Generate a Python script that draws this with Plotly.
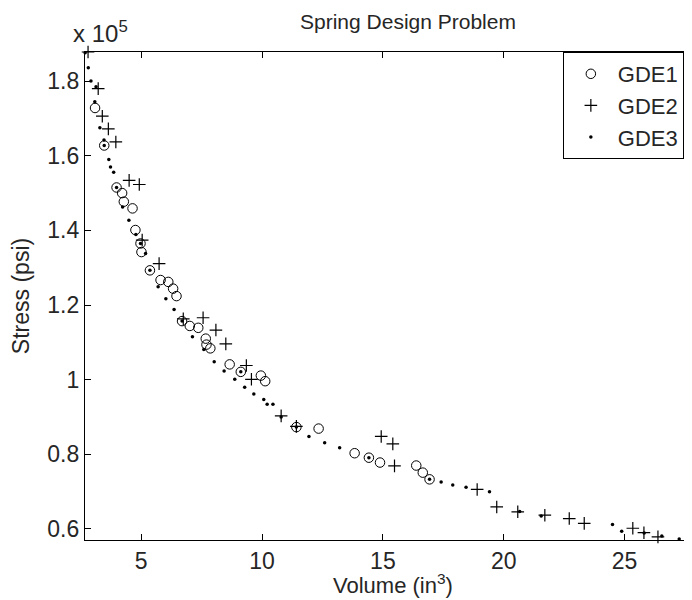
import plotly.graph_objects as go

# GDE1 (circles): volume (in^3), stress (x1e5 psi)
gde1_x = [3.09, 3.47, 3.98, 4.21, 4.28, 4.64, 4.76, 4.97, 5.01, 5.36, 5.80, 6.12, 6.32, 6.46,
          6.69, 7.01, 7.36, 7.67, 7.70, 7.86, 8.66, 9.12, 9.95, 10.13, 11.42, 12.34, 13.83,
          14.42, 14.88, 16.38, 16.65, 16.93]
gde1_y = [1.728, 1.6275, 1.515, 1.500, 1.477, 1.459, 1.401, 1.365, 1.342, 1.293, 1.267, 1.262,
          1.244, 1.224, 1.157, 1.144, 1.139, 1.110, 1.094, 1.084, 1.041, 1.021, 1.011, 0.996,
          0.873, 0.869, 0.803, 0.791, 0.778, 0.770, 0.751, 0.733]

# GDE2 (plus)
gde2_x = [2.80, 3.22, 3.39, 3.64, 3.95, 4.50, 4.92, 5.04, 5.74, 6.74, 7.56, 8.09, 8.50, 9.35,
          9.56, 10.79, 11.42, 14.93, 15.41, 15.48, 18.90, 19.71, 20.58, 21.70, 22.71, 23.33,
          25.34, 25.80, 26.38]
gde2_y = [1.878, 1.780, 1.706, 1.672, 1.637, 1.534, 1.523, 1.374, 1.311, 1.163, 1.166, 1.133,
          1.096, 1.038, 1.001, 0.903, 0.875, 0.848, 0.828, 0.769, 0.706, 0.659, 0.646, 0.637,
          0.628, 0.615, 0.602, 0.590, 0.579]

# GDE3 (dots)
gde3_x = [2.68, 2.81, 2.92, 3.13, 3.08, 3.29, 3.46, 3.47, 3.66, 3.73, 3.86, 3.98, 4.23, 4.49,
          4.78, 4.97, 5.18, 5.36, 5.70, 6.02, 6.36, 6.69, 7.12, 7.59, 8.02, 8.43, 8.87, 9.12,
          9.28, 9.66, 10.07, 10.21, 10.45, 10.79, 11.42, 11.94, 12.59, 13.21, 14.42, 16.93,
          17.41, 17.89, 18.44, 19.41, 20.66, 21.55, 24.50, 24.88, 25.81, 26.54, 27.26]
gde3_y = [1.876, 1.836, 1.800, 1.785, 1.745, 1.675, 1.642, 1.6275, 1.590, 1.570, 1.556, 1.515,
          1.463, 1.427, 1.389, 1.365, 1.338, 1.293, 1.249, 1.217, 1.188, 1.157, 1.115, 1.081,
          1.048, 1.023, 1.001, 1.021, 0.980, 0.962, 0.947, 0.934, 0.934, 0.900, 0.873, 0.848,
          0.831, 0.818, 0.791, 0.733, 0.726, 0.718, 0.712, 0.700, 0.647, 0.635, 0.612, 0.594,
          0.589, 0.581, 0.5735]

x_ticks = [5, 10, 15, 20, 25]
y_ticks = [0.6, 0.8, 1.0, 1.2, 1.4, 1.6, 1.8]
y_tick_labels = ["0.6", "0.8", "1", "1.2", "1.4", "1.6", "1.8"]
SCALE = 1e5

FONT = "Liberation Sans, Arial, Helvetica, sans-serif"
TXT = "#262626"

fig = go.Figure()
fig.add_trace(go.Scatter(
    x=gde1_x, y=[v * SCALE for v in gde1_y], mode="markers", name="GDE1", cliponaxis=False,
    marker=dict(symbol="circle-open", size=9.5, color="black", line=dict(width=1, color="black"))))
fig.add_trace(go.Scatter(
    x=gde2_x, y=[v * SCALE for v in gde2_y], mode="markers", name="GDE2", cliponaxis=False,
    marker=dict(symbol="cross-thin-open", size=9, color="black", line=dict(width=1.2, color="black"))))
fig.add_trace(go.Scatter(
    x=gde3_x, y=[v * SCALE for v in gde3_y], mode="markers", name="GDE3", cliponaxis=False,
    marker=dict(symbol="circle", size=3.5, color="black", line=dict(width=0))))

axis_common = dict(
    showgrid=False, zeroline=False, showline=True, linecolor="black", linewidth=1.2,
    mirror="ticks", ticks="inside", ticklen=6, tickwidth=1, tickcolor="black",
    tickfont=dict(family=FONT, size=23, color=TXT),
)

fig.update_layout(
    width=692, height=600,
    margin=dict(l=77, r=0, t=44, b=68, autoexpand=False),
    paper_bgcolor="white", plot_bgcolor="white",
    title=dict(text="Spring Design Problem", x=0.578, xanchor="center",
               y=1 - 14 / 600, yanchor="middle", yref="container",
               font=dict(family=FONT, size=21, color=TXT)),
    xaxis=dict(range=[2.674, 28.12], tickvals=x_ticks, **axis_common),
    yaxis=dict(range=[0.5705 * SCALE, 1.878 * SCALE],
               tickvals=[v * SCALE for v in y_ticks], ticktext=y_tick_labels,
               title=dict(text="Stress (psi)", standoff=14,
                          font=dict(family=FONT, size=23, color=TXT)),
               **axis_common),
    legend=dict(x=0.777, y=1.0, xanchor="left", yanchor="top",
                bgcolor="white", bordercolor="black", borderwidth=1,
                font=dict(family=FONT, size=22, color=TXT),
                itemwidth=44, tracegroupgap=0),
    showlegend=True,
    annotations=[
        dict(text="x 10<sup>5</sup>", xref="paper", yref="paper", x=0, y=1,
             xanchor="left", yanchor="bottom", xshift=-14, yshift=3, showarrow=False,
             font=dict(family=FONT, size=24, color=TXT)),
        dict(text="Volume (in<sup>3</sup>)", xref="paper", yref="paper", x=0.5, y=0,
             xanchor="center", yanchor="middle", yshift=-44, showarrow=False,
             font=dict(family=FONT, size=22, color=TXT)),
    ],
)

fig.write_html("out.html")
